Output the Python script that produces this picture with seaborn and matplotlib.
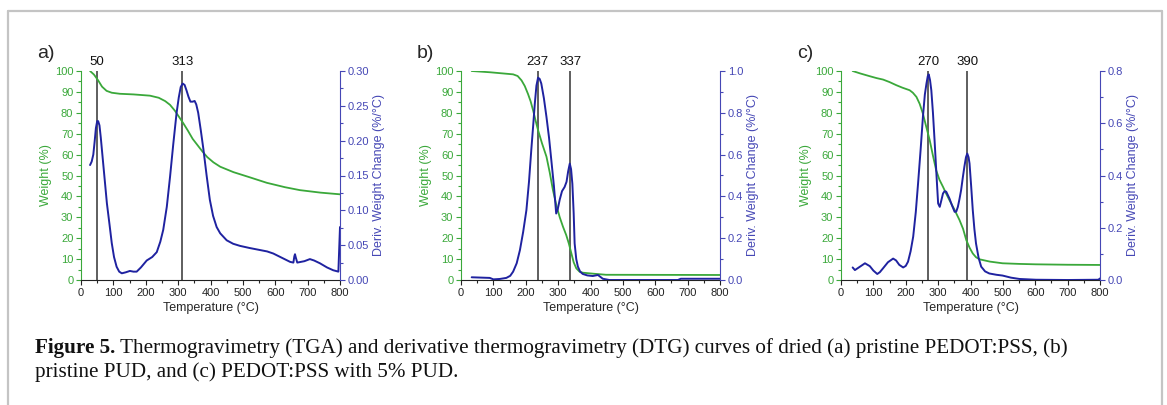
import numpy as np
import matplotlib
matplotlib.use("Agg")
import matplotlib.pyplot as plt
import seaborn as sns
from matplotlib.lines import Line2D
from matplotlib.ticker import MultipleLocator

# ---- data ----
# panel a) pristine PEDOT:PSS
temp_a_tga = [28, 40, 53, 65, 79, 95, 120, 162, 213, 240, 260, 275, 290, 303, 316, 330, 345,
              360, 375, 390, 409, 430, 471, 520, 574, 630, 676, 740, 800]
weight_a = [100, 98.3, 95.5, 92.5, 90.5, 89.6, 89.1, 88.8, 88.2, 87.2, 85.6, 83.8, 81, 78, 75,
            71.5, 67.5, 64.5, 61.5, 58.8, 56.3, 54.2, 51.6, 49.2, 46.5, 44.4, 43, 41.8, 41]
temp_a_dtg = [28, 33, 38, 42, 46, 50, 53, 57, 61, 65, 70, 75, 80, 88, 95, 102, 110, 118, 126,
              138, 151, 162, 172, 185, 203, 220, 234, 245, 254, 265, 275, 285, 295, 302, 308,
              314, 320, 326, 332, 338, 345, 351, 356, 362, 370, 378, 388, 398, 408, 419, 430,
              450, 470, 491, 520, 553, 575, 594, 620, 646, 656, 659, 661, 663, 668, 690, 707,
              720, 738, 760, 779, 795, 800]
deriv_a = [0.165, 0.170, 0.180, 0.198, 0.218, 0.228, 0.228, 0.222, 0.205, 0.185, 0.160, 0.135,
           0.110, 0.080, 0.053, 0.033, 0.019, 0.012, 0.0096, 0.011, 0.013, 0.012, 0.012, 0.018,
           0.028, 0.033, 0.040, 0.055, 0.072, 0.105, 0.148, 0.195, 0.239, 0.262, 0.277, 0.282,
           0.280, 0.272, 0.263, 0.256, 0.256, 0.257, 0.252, 0.240, 0.215, 0.188, 0.150, 0.115,
           0.092, 0.076, 0.067, 0.057, 0.052, 0.049, 0.046, 0.043, 0.041, 0.038, 0.032, 0.026,
           0.025, 0.034, 0.037, 0.033, 0.025, 0.027, 0.030, 0.028, 0.024, 0.018, 0.014, 0.012,
           0.076]
peaks_a = [50, 313]

# panel b) pristine PUD
temp_b_tga = [33, 89, 161, 175, 187, 197, 207, 215, 223, 230, 238, 250, 264, 274, 284, 295,
              305, 315, 325, 333, 341, 348, 356, 366, 376, 410, 448, 800]
weight_b = [100, 99.4, 98.4, 97.6, 95.5, 92.8, 89, 85.5, 81, 76.5, 71.7, 65.5, 59, 51.5, 43,
            35.5, 30, 25.5, 21.5, 17.5, 12.7, 8.5, 5.6, 4.0, 3.5, 3.0, 2.5, 2.4]
temp_b_dtg = [33, 89, 100, 120, 140, 152, 161, 172, 182, 192, 202, 210, 217, 223, 228, 233,
              238, 243, 248, 256, 264, 272, 279, 287, 294, 299, 305, 312, 320, 326, 331, 336,
              340, 344, 348, 351, 356, 361, 368, 376, 390, 407, 423, 438, 458, 670, 679, 800]
deriv_b = [0.013, 0.010, 0.003, 0.005, 0.010, 0.020, 0.040, 0.080, 0.143, 0.230, 0.334, 0.470,
           0.620, 0.740, 0.844, 0.930, 0.968, 0.962, 0.940, 0.870, 0.780, 0.680, 0.573, 0.450,
           0.318, 0.340, 0.385, 0.425, 0.445, 0.470, 0.520, 0.557, 0.530, 0.460, 0.320, 0.175,
           0.100, 0.064, 0.040, 0.029, 0.022, 0.019, 0.024, 0.006, 0.0, 0.0, 0.006, 0.006]
peaks_b = [237, 337]

# panel c) PEDOT:PSS with 5% PUD
temp_c_tga = [36, 60, 89, 110, 130, 150, 171, 190, 212, 222, 233, 243, 253, 263, 274, 284,
              294, 304, 315, 325, 335, 350, 366, 377, 387, 397, 407, 417, 428, 460, 499, 550,
              602, 700, 800]
weight_c = [100, 98.8, 97.5, 96.6, 95.9, 94.7, 93.2, 92, 90.8, 89.6, 87.6, 84.3, 79.6, 73.5,
            66.9, 59.5, 52.5, 48, 44.6, 41.3, 38.2, 33.8, 28.7, 24.5, 19.1, 15.5, 12.7, 10.9,
            9.9, 8.8, 8.0, 7.7, 7.5, 7.3, 7.2]
temp_c_dtg = [36, 43, 55, 74, 89, 100, 112, 120, 130, 145, 161, 170, 180, 192, 200, 207, 215,
              223, 231, 238, 246, 253, 259, 264, 268, 271, 275, 279, 284, 289, 295, 300, 305,
              310, 315, 320, 325, 330, 335, 343, 351, 356, 361, 366, 371, 376, 381, 386, 390,
              394, 397, 402, 407, 412, 417, 425, 433, 445, 458, 480, 499, 525, 551, 602, 700,
              795, 800]
deriv_c = [0.048, 0.038, 0.048, 0.064, 0.053, 0.036, 0.023, 0.030, 0.045, 0.068, 0.082, 0.075,
           0.058, 0.048, 0.054, 0.070, 0.110, 0.166, 0.260, 0.369, 0.500, 0.624, 0.710, 0.752,
           0.780, 0.787, 0.765, 0.726, 0.640, 0.535, 0.400, 0.293, 0.280, 0.305, 0.331, 0.340,
           0.338, 0.325, 0.312, 0.285, 0.261, 0.262, 0.280, 0.310, 0.344, 0.390, 0.433, 0.470,
           0.484, 0.470, 0.446, 0.360, 0.268, 0.195, 0.140, 0.085, 0.051, 0.033, 0.025, 0.020,
           0.017, 0.009, 0.004, 0.001, 0.0, 0.001, 0.006]
peaks_c = [270, 390]

panels = [
    ("a)", temp_a_tga, weight_a, temp_a_dtg, deriv_a, peaks_a, 0.30, 0.05, "{:.2f}"),
    ("b)", temp_b_tga, weight_b, temp_b_dtg, deriv_b, peaks_b, 1.0, 0.2, "{:.1f}"),
    ("c)", temp_c_tga, weight_c, temp_c_dtg, deriv_c, peaks_c, 0.8, 0.2, "{:.1f}"),
]

GREEN = "#3aa83a"
BLUE = "#1f22a0"
BLUE_TXT = "#4547b5"

sns.set_style("ticks")
plt.rcParams["font.family"] = ["Liberation Sans", "DejaVu Sans"]

W, H = 1167, 405
fig = plt.figure(figsize=(W / 100, H / 100), dpi=100)

lefts = [81, 461, 841]
ax_w, ax_top, ax_bot = 259, 71, 280

for (letter, tt, ww, td, dd, peaks, dmax, dstep, fmt), lx in zip(panels, lefts):
    ax = fig.add_axes([lx / W, 1 - ax_bot / H, ax_w / W, (ax_bot - ax_top) / H])
    ax2 = ax.twinx()

    sns.lineplot(x=tt, y=ww, ax=ax, color=GREEN, lw=1.3)
    sns.lineplot(x=td, y=dd, ax=ax2, color=BLUE, lw=1.4)

    for p in peaks:
        ax.axvline(p, color="#333333", lw=1.1, zorder=0)
        ax.text(p, 101.5, str(p), ha="center", va="bottom", fontsize=9.5, color="#111111")

    ax.set_xlim(0, 800)
    ax.set_ylim(0, 100)
    ax2.set_ylim(0, dmax)
    ax.xaxis.set_major_locator(MultipleLocator(100))
    ax.xaxis.set_minor_locator(MultipleLocator(50))
    ax.yaxis.set_major_locator(MultipleLocator(10))
    ax.yaxis.set_minor_locator(MultipleLocator(5))
    ax2.yaxis.set_minor_locator(MultipleLocator(dstep / 2))
    ax2.set_yticks(np.arange(0, dmax + 1e-9, dstep))
    ax2.set_yticklabels([fmt.format(v) for v in np.arange(0, dmax + 1e-9, dstep)])

    ax.set_xlabel("Temperature (°C)", fontsize=9, labelpad=3)
    ax.set_ylabel("Weight (%)", fontsize=9, color=GREEN, labelpad=2)
    ax2.set_ylabel("Deriv. Weight Change (%/°C)", fontsize=9, color=BLUE_TXT, labelpad=3)

    for a in (ax, ax2):
        a.spines["top"].set_visible(False)
        a.tick_params(which="both", direction="out", width=0.8, pad=2)
        a.tick_params(which="major", length=3.5, labelsize=8)
        a.tick_params(which="minor", length=2)
    ax.spines["left"].set_color(GREEN)
    ax.spines["right"].set_visible(False)
    ax.spines["bottom"].set_color("#222222")
    ax2.spines["left"].set_visible(False)
    ax2.spines["bottom"].set_visible(False)
    ax2.spines["right"].set_color(BLUE_TXT)
    ax.tick_params(axis="y", which="both", colors=GREEN)
    ax.tick_params(axis="x", which="both", colors="#222222")
    ax2.tick_params(axis="y", which="both", colors=BLUE_TXT)

    fig.text((lx - 44) / W, 1 - 54 / H, letter, fontsize=14, ha="left", va="center")

# gray frame around the figure
frame = dict(color="#c4c4c4", lw=1.6, transform=fig.transFigure)
fig.add_artist(Line2D([8 / W, 8 / W], [0, 1 - 11 / H], **frame))
fig.add_artist(Line2D([8 / W, 1162 / W], [1 - 11 / H, 1 - 11 / H], **frame))
fig.add_artist(Line2D([1162 / W, 1162 / W], [0, 1 - 11 / H], **frame))

cap_font = ["Liberation Serif", "DejaVu Serif"]
cap_size = 15.2
t1 = fig.text(35 / W, 1 - 348 / H, "Figure 5.", fontsize=cap_size, fontweight="bold",
              family=cap_font, ha="left", va="center", color="#111111")
fig.canvas.draw()
bb = t1.get_window_extent()
fig.text((bb.x1 + 5) / W, 1 - 348 / H,
         "Thermogravimetry (TGA) and derivative thermogravimetry (DTG) curves of dried (a) pristine PEDOT:PSS, (b)",
         fontsize=cap_size, family=cap_font, ha="left", va="center", color="#111111")
fig.text(35 / W, 1 - 372 / H, "pristine PUD, and (c) PEDOT:PSS with 5% PUD.",
         fontsize=cap_size, family=cap_font, ha="left", va="center", color="#111111")

fig.savefig("out.png", dpi=100)
